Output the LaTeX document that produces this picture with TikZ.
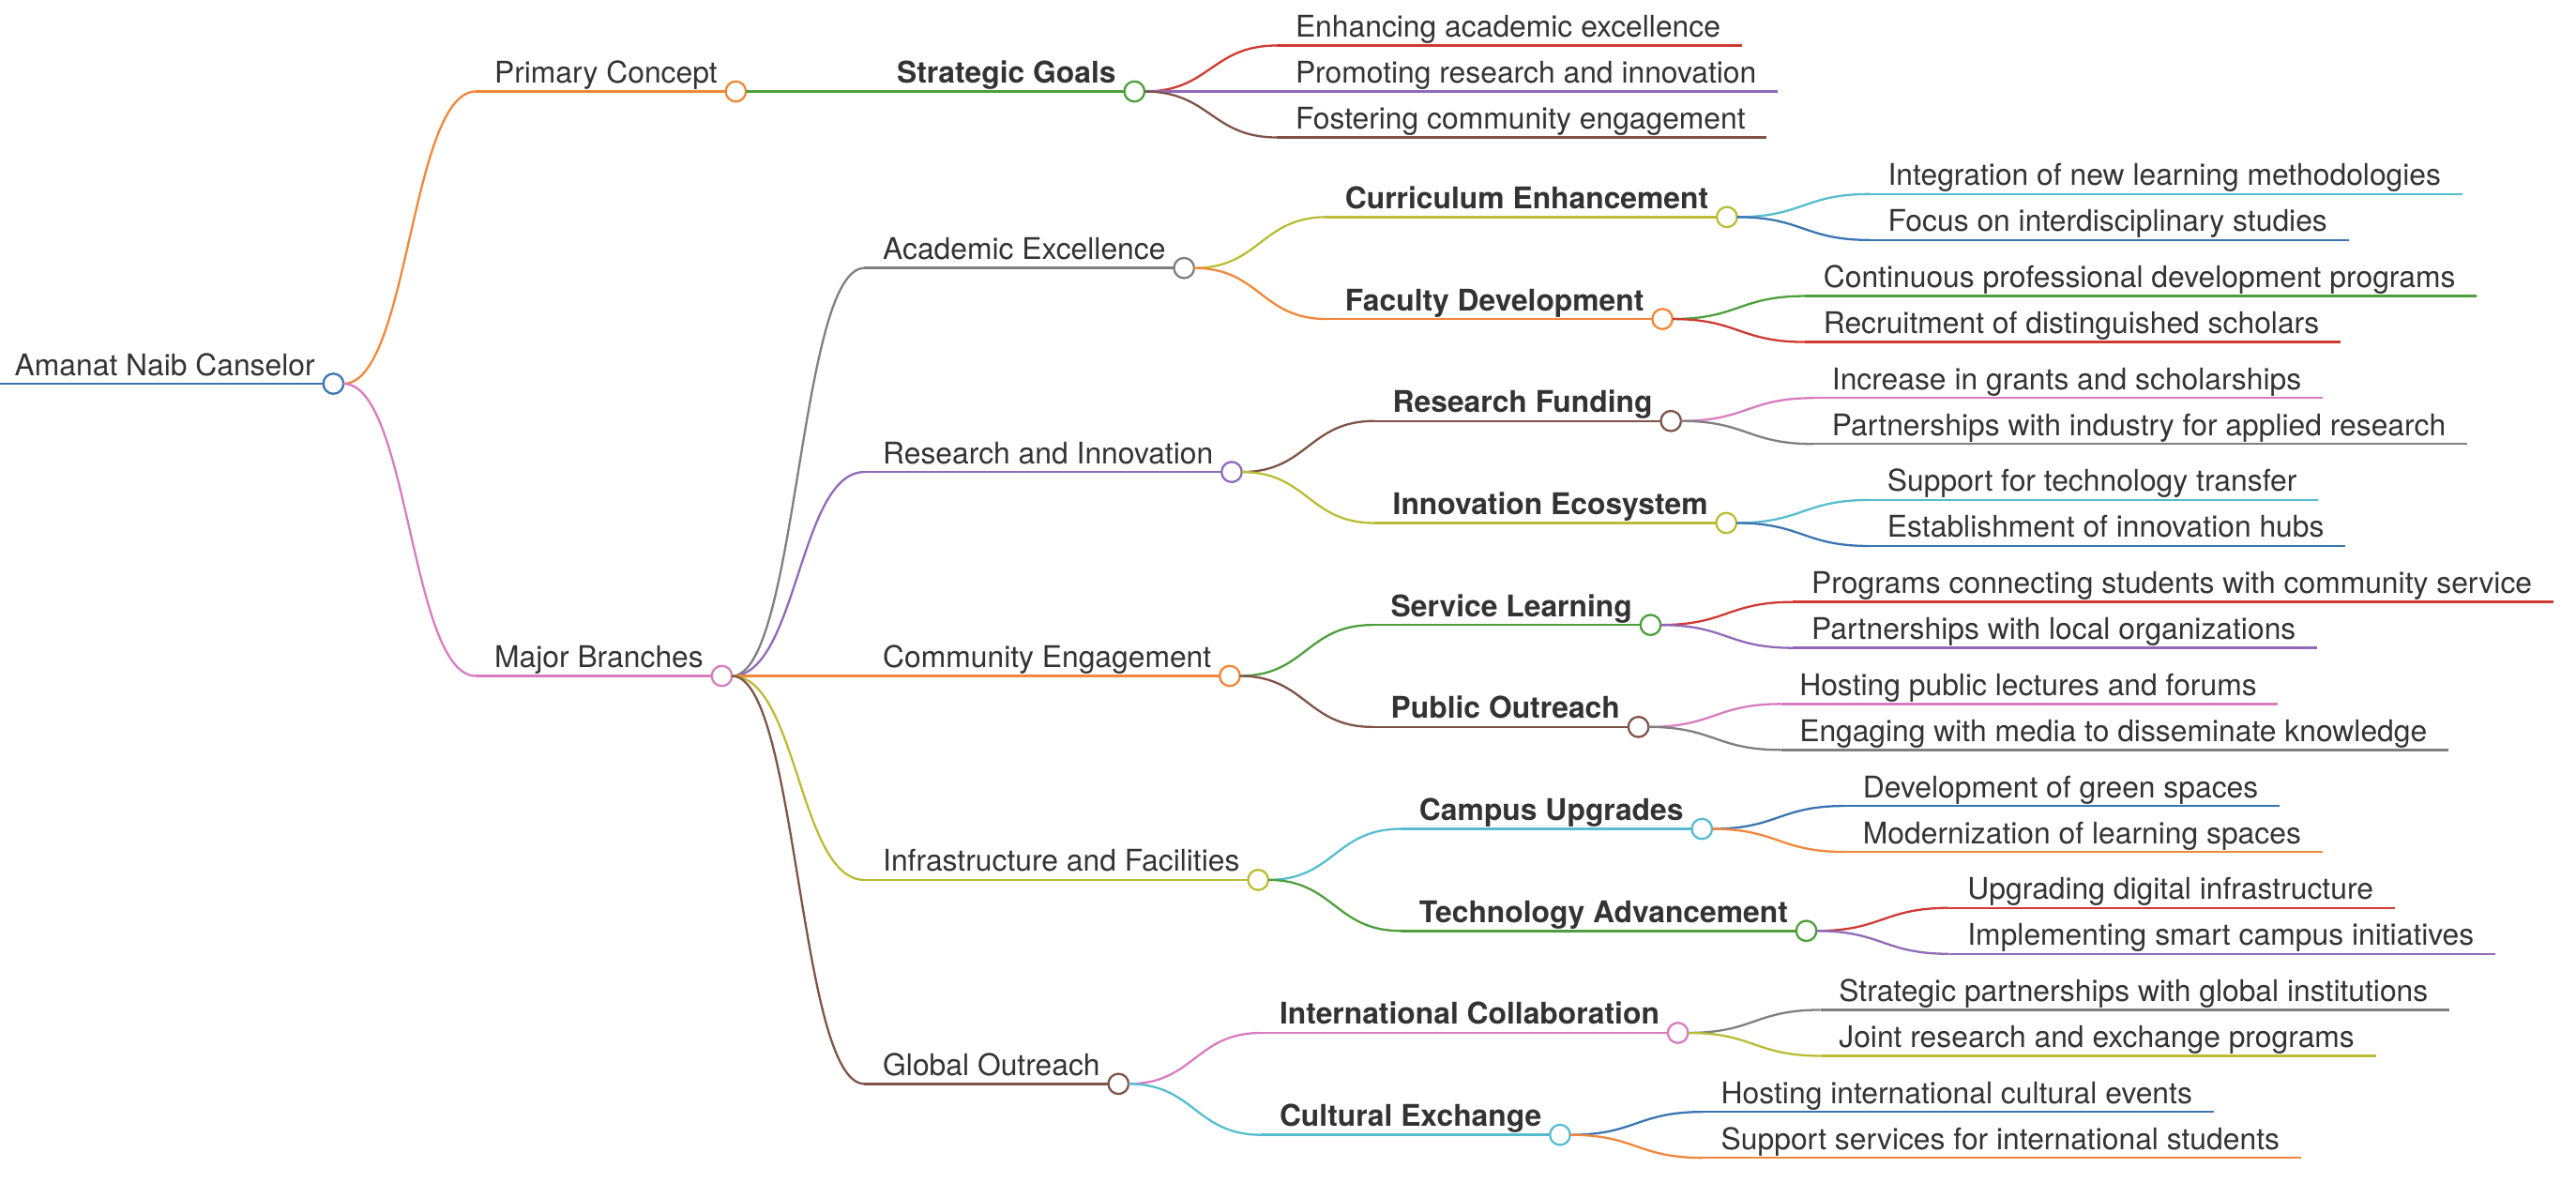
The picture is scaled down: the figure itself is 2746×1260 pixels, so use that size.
\documentclass[tikz,border=0pt]{standalone}
\usepackage{fontspec}
\setmainfont{TeX Gyre Heros}
\usepackage{xcolor}
\usepackage{tikz}
\usetikzlibrary{calc, positioning}
\definecolor{cblue}{HTML}{3A75B2}
\definecolor{corange}{HTML}{F0873A}
\definecolor{cgreen}{HTML}{4C9F3B}
\definecolor{cred}{HTML}{CF3A31}
\definecolor{cpurple}{HTML}{8F6AB9}
\definecolor{cbrown}{HTML}{7F5347}
\definecolor{cpink}{HTML}{D87CC0}
\definecolor{cgray}{HTML}{7F7F7F}
\definecolor{colive}{HTML}{BBBC35}
\definecolor{ccyan}{HTML}{56BDD0}
\definecolor{textgray}{HTML}{333333}
\tikzset{
    textnode/.style = {draw=none, fill=none, rectangle, inner sep=0em, text=textgray,
      font=\fontsize{9.05}{11}\selectfont},
    boldnode/.style = {textnode, font=\fontsize{9.05}{11}\selectfont\bfseries},
    dotnode/.style = {draw, fill=white, circle, inner sep=0em, outer sep=0em,
      minimum size=0.215cm, line width=0.65pt},
    uline/.style = {line width=0.7pt},
    link/.style = {line width=0.65pt}
}
% #1 name, #2 parent, #3 vertical offset, #4 colour, #5 text style, #6 text
\newcommand{\branchnode}[6]{
    \coordinate (#1s) at ($(#2)+(152,#3)$);
    \node [#5, name=#1t, anchor=base west] at ($(#1s)+(19,-9)$) {#6};
    \draw [link, #4] (#2.east) .. controls +(70,0) and +(-70,0) .. (#1s);
    \draw [uline, #4] (#1s) -- ($(#1s -| #1t.east)+(19,0)$);
    \node [dotnode, draw=#4, name=#1] at ($(#1s -| #1t.east)+(19,0)$) {};
}
\newcommand{\leafnode}[5]{
    \coordinate (#1s) at ($(#2)+(152,#3)$);
    \node [textnode, name=#1t, anchor=base west] at ($(#1s)+(19,-9)$) {#5};
    \draw [link, #4] (#2.east) .. controls +(70,0) and +(-70,0) .. (#1s);
    \draw [uline, #4] (#1s) -- ($(#1s -| #1t.east)+(22,0)$) coordinate (#1);
}
\begin{document}
\begin{tikzpicture}[x=0.01cm, y=-0.01cm]
    \useasboundingbox (0,0) rectangle (2746,1260);

    \coordinate (roots) at (-3,409);
    \node [textnode, name=roott, anchor=base west] at ($(roots)+(18,-9)$) {Amanat Naib Canselor};
    \draw [uline, cblue] (roots) -- ($(roots -| roott.east)+(19,0)$);
    \node [dotnode, draw=cblue, name=root] at ($(roots -| roott.east)+(19,0)$) {};

    \branchnode{primary}{root}{-311.5}{corange}{textnode}{Primary Concept}
    \branchnode{major}{root}{311.5}{cpink}{textnode}{Major Branches}

    \branchnode{goals}{primary}{0}{cgreen}{boldnode}{Strategic Goals}
    \leafnode{goalsA}{goals}{-49}{cred}{Enhancing academic excellence}
    \leafnode{goalsB}{goals}{0}{cpurple}{Promoting research and innovation}
    \leafnode{goalsC}{goals}{49}{cbrown}{Fostering community engagement}

    \branchnode{academic}{major}{-434.8}{cgray}{textnode}{Academic Excellence}
    \branchnode{curriculum}{academic}{-54.35}{colive}{boldnode}{Curriculum Enhancement}
    \leafnode{curriculumA}{curriculum}{-24.5}{ccyan}{Integration of new learning methodologies}
    \leafnode{curriculumB}{curriculum}{24.5}{cblue}{Focus on interdisciplinary studies}
    \branchnode{faculty}{academic}{54.35}{corange}{boldnode}{Faculty Development}
    \leafnode{facultyA}{faculty}{-24.5}{cgreen}{Continuous professional development programs}
    \leafnode{facultyB}{faculty}{24.5}{cred}{Recruitment of distinguished scholars}

    \branchnode{research}{major}{-217.4}{cpurple}{textnode}{Research and Innovation}
    \branchnode{funding}{research}{-54.35}{cbrown}{boldnode}{Research Funding}
    \leafnode{fundingA}{funding}{-24.5}{cpink}{Increase in grants and scholarships}
    \leafnode{fundingB}{funding}{24.5}{cgray}{Partnerships with industry for applied research}
    \branchnode{ecosystem}{research}{54.35}{colive}{boldnode}{Innovation Ecosystem}
    \leafnode{ecosystemA}{ecosystem}{-24.5}{ccyan}{Support for technology transfer}
    \leafnode{ecosystemB}{ecosystem}{24.5}{cblue}{Establishment of innovation hubs}

    \branchnode{community}{major}{0}{corange}{textnode}{Community Engagement}
    \branchnode{service}{community}{-54.35}{cgreen}{boldnode}{Service Learning}
    \leafnode{serviceA}{service}{-24.5}{cred}{Programs connecting students with community service}
    \leafnode{serviceB}{service}{24.5}{cpurple}{Partnerships with local organizations}
    \branchnode{outreach}{community}{54.35}{cbrown}{boldnode}{Public Outreach}
    \leafnode{outreachA}{outreach}{-24.5}{cpink}{Hosting public lectures and forums}
    \leafnode{outreachB}{outreach}{24.5}{cgray}{Engaging with media to disseminate knowledge}

    \branchnode{infra}{major}{217.4}{colive}{textnode}{Infrastructure and Facilities}
    \branchnode{campus}{infra}{-54.35}{ccyan}{boldnode}{Campus Upgrades}
    \leafnode{campusA}{campus}{-24.5}{cblue}{Development of green spaces}
    \leafnode{campusB}{campus}{24.5}{corange}{Modernization of learning spaces}
    \branchnode{technology}{infra}{54.35}{cgreen}{boldnode}{Technology Advancement}
    \leafnode{technologyA}{technology}{-24.5}{cred}{Upgrading digital infrastructure}
    \leafnode{technologyB}{technology}{24.5}{cpurple}{Implementing smart campus initiatives}

    \branchnode{global}{major}{434.8}{cbrown}{textnode}{Global Outreach}
    \branchnode{international}{global}{-54.35}{cpink}{boldnode}{International Collaboration}
    \leafnode{internationalA}{international}{-24.5}{cgray}{Strategic partnerships with global institutions}
    \leafnode{internationalB}{international}{24.5}{colive}{Joint research and exchange programs}
    \branchnode{cultural}{global}{54.35}{ccyan}{boldnode}{Cultural Exchange}
    \leafnode{culturalA}{cultural}{-24.5}{cblue}{Hosting international cultural events}
    \leafnode{culturalB}{cultural}{24.5}{corange}{Support services for international students}
\end{tikzpicture}
\end{document}
